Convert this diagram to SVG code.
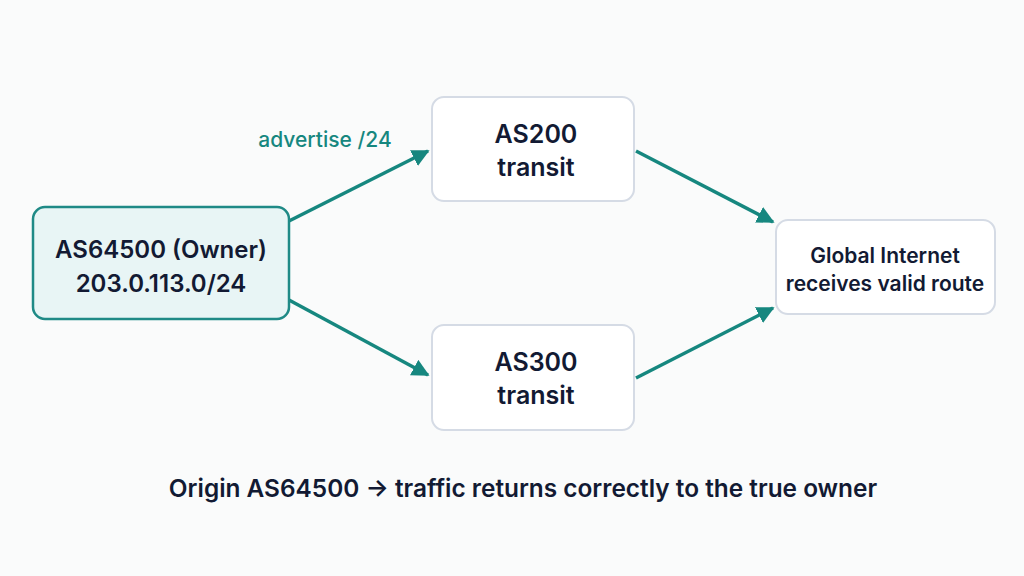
<svg xmlns="http://www.w3.org/2000/svg" width="1024" height="576" viewBox="0 0 1024 576">
<style>
.n{fill:#ffffff;stroke:#d5dbe5;stroke-width:2}
.o{fill:#e8f5f5;stroke:#1f8a86;stroke-width:2.5}
.t{font-family:Inter,"Noto Sans",sans-serif;font-weight:600;fill:#121a33;text-anchor:middle}
.c{stroke:#16877f;stroke-width:3.5;fill:none;marker-end:url(#a)}
</style>
<defs><marker id="a" viewBox="0 0 10 10" refX="9" refY="5" markerWidth="5" markerHeight="5" orient="auto" markerUnits="strokeWidth"><path d="M0,0L10,5L0,10z" fill="#16877f"/></marker></defs>
<rect width="1024" height="576" fill="#fafbfb"/>
<g id="connectors">
<line class="c" x1="289" y1="221" x2="428" y2="151"/>
<line class="c" x1="289" y1="300" x2="428" y2="375"/>
<line class="c" x1="636" y1="151" x2="773" y2="222"/>
<line class="c" x1="636" y1="378" x2="773" y2="308"/>
<text x="325" y="147" font-family="Inter,'Noto Sans',sans-serif" font-weight="500" font-size="21" fill="#16877f" text-anchor="middle">advertise /24</text>
</g>
<g id="owner"><rect class="o" x="33" y="207" width="256" height="112" rx="12"/>
<text class="t" font-size="24" x="161" y="258">AS64500 (Owner)</text>
<text class="t" font-size="24" x="161" y="292">203.0.113.0/24</text></g>
<g id="as200"><rect class="n" x="432" y="97" width="202" height="104" rx="12"/>
<text class="t" font-size="25" x="536" y="143">AS200</text>
<text class="t" font-size="25" x="536" y="176">transit</text></g>
<g id="as300"><rect class="n" x="432" y="325" width="202" height="105" rx="12"/>
<text class="t" font-size="25" x="536" y="371">AS300</text>
<text class="t" font-size="25" x="536" y="404">transit</text></g>
<g id="internet"><rect class="n" x="776" y="220" width="219" height="94" rx="12"/>
<text class="t" font-size="21" x="885" y="263">Global Internet</text>
<text class="t" font-size="21" x="885" y="291">receives valid route</text></g>
<text class="t" font-size="24.4" x="523" y="497">Origin AS64500 → traffic returns correctly to the true owner</text>
</svg>
